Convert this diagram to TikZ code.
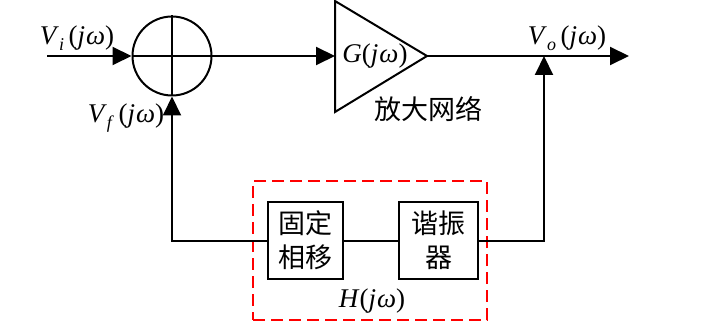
\documentclass[tikz,border=0pt]{standalone}
\usepackage{fontspec}
\setmainfont{Liberation Serif}
\newfontfamily\cjk{Noto Sans CJK SC}
\usetikzlibrary{arrows.meta}
\newcommand{\sig}[1]{\textit{V}\raisebox{-0.45ex}{\fontsize{9}{10}\selectfont\textit{#1}}\,(\textit{j\kern0.5pt ω})}
\begin{document}
\begin{tikzpicture}[x=0.5pt,y=-0.5pt,line width=1pt,
  >={Triangle[length=9.5pt,width=9pt]},
  every node/.style={font=\fontsize{13.5}{17}\selectfont},
  blk/.style={draw,minimum height=38.5pt,inner sep=0pt,align=center,font=\cjk\fontsize{13.5}{17}\selectfont},
  lbl/.style={inner sep=0pt},
  hbox/.style={draw=red,dash pattern=on 6pt off 3pt,minimum width=117pt,minimum height=69.5pt,inner sep=0pt}]
\useasboundingbox (0,0) rectangle (727,336);
% summing junction
\node[draw,circle,minimum size=39.5pt,inner sep=0pt] (sum) at (172,56) {};
\draw (sum.north) -- (sum.south);
\draw (sum.west) -- (sum.east);
% input
\coordinate (in) at (47,56);
\draw[->] (in) -- (sum.west);
\node[lbl] (vi) at (77,38) {\sig{i}};
% amplifier
\coordinate (gin) at (335,56);
\coordinate (gout) at (427,56);
\draw (335,1) -- (gout) -- (335,112) -- cycle;
\node[lbl] (glab) at (375,56) {\textit{G}(\textit{j\kern0.5pt ω})};
\node[lbl,font=\cjk\fontsize{13.5}{17}\selectfont] (amp) at (428,109) {放大网络};
\draw[->] (sum.east) -- (gin);
% output
\coordinate (jn) at (544,56);
\coordinate (out) at (629,56);
\draw[->] (gout) -- (out);
\node[lbl] (vo) at (567,38) {\sig{o}};
% feedback network
\node[blk,minimum width=37.5pt] (b1) at (305.5,240.5) {固定\\相移};
\node[blk,minimum width=39.5pt] (b2) at (438.5,240.5) {谐振\\器};
\node[hbox] (hn) at (370,250.5) {};
\node[lbl] (hl) at (372,301) {\textit{H}(\textit{j\kern0.5pt ω})};
\draw (b1.east) -- (b2.west);
\draw[->] (b2.east) -| (jn);
\draw[->] (b1.west) -| (sum.south);
\node[lbl] (vf) at (126,118) {\sig{f}};
\end{tikzpicture}
\end{document}
